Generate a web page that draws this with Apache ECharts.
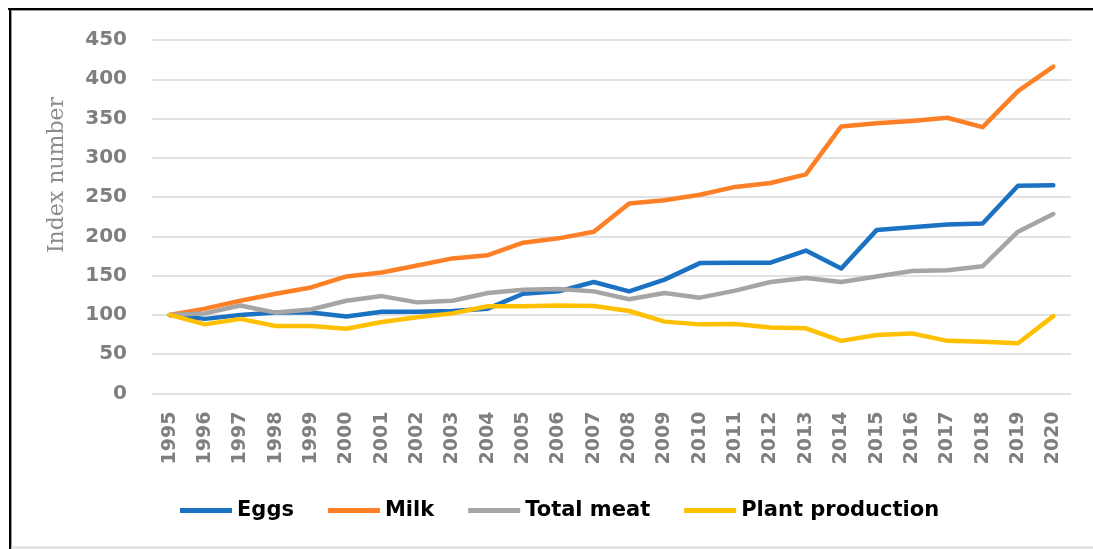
<!DOCTYPE html>
<html>
<head>
<meta charset="utf-8">
<script src="https://cdn.jsdelivr.net/npm/echarts@6/dist/echarts.min.js"></script>
<style>
html,body{margin:0;padding:0;background:#fff;}
#chart{width:1093px;height:549px;}
</style>
</head>
<body>
<div id="chart"></div>
<script>
var years = ['1995','1996','1997','1998','1999','2000','2001','2002','2003','2004','2005','2006','2007','2008','2009','2010','2011','2012','2013','2014','2015','2016','2017','2018','2019','2020'];
var eggs = [100,95,100,103,103,98,104,104,105,108,127,130,142,130,145,166,166.5,166.5,182,159,208,211.5,215,216.5,264.5,265];
var milk = [100,108,118,127,135,149,154,163,172,176,192,197.5,206,242,246,253,263,268,279,340,344,347,351,339,385,416];
var meat = [100,102,112,103,107,118,124,116,118,128,132,133,130,120,128,122,131,142,147,142,149,156,157,162,206,228.5];
var plant = [100,88,95,86,86,82.5,91,97,102,111,111,112,111.5,105,91.5,88,88.5,84,83,67,74.5,76.5,67,66,64,98.5];
var seriesNames = ['Eggs','Milk','Total meat','Plant production'];
var seriesColors = ['#1b72c2','#fd7f26','#a5a5a5','#ffc000'];
var yTicks = {min:0, max:450, interval:50};
var yAxisTitle = 'Index number';

var chart = echarts.init(document.getElementById('chart'));
var dataSets = [eggs, milk, meat, plant];
var series = dataSets.map(function(d, i){
  return {
    name: seriesNames[i],
    type: 'line',
    data: d,
    showSymbol: false,
    symbol: 'none',
    lineStyle: {width: 4.5, color: seriesColors[i], join: 'round', cap: 'round'},
    itemStyle: {color: seriesColors[i]}
  };
});
chart.setOption({
  animation: false,
  backgroundColor: '#ffffff',
  graphic: [
    {type:'line', shape:{x1:8,y1:9,x2:1093,y2:9}, style:{stroke:'#000000', lineWidth:2}, silent:true},
    {type:'line', shape:{x1:11,y1:10.5,x2:1093,y2:10.5}, style:{stroke:'#9a9a9a', lineWidth:1}, silent:true},
    {type:'line', shape:{x1:10,y1:8,x2:10,y2:549}, style:{stroke:'#000000', lineWidth:2}, silent:true},
    {type:'line', shape:{x1:11.5,y1:11,x2:11.5,y2:549}, style:{stroke:'#9a9a9a', lineWidth:1}, silent:true},
    {type:'line', shape:{x1:11,y1:547.5,x2:1093,y2:547.5}, style:{stroke:'#d9d9d9', lineWidth:2}, silent:true},
    {type:'text', x:57, y:175, rotation:Math.PI/2, silent:true,
     style:{text:yAxisTitle, fontFamily:'DejaVu Serif', fontSize:22, fill:'#8c8c8c', align:'center', verticalAlign:'middle'}}
  ],
  grid: {left:152, right:22, top:40, bottom:155.5, containLabel:false, outerBoundsMode:'none'},
  legend: {
    data: seriesNames,
    left: 175,
    top: 495,
    itemWidth: 52,
    itemHeight: 5,
    itemGap: 34,
    icon: 'path://M0,0 L52,0 L52,5 L0,5 Z',
    textStyle: {fontFamily:'DejaVu Sans', fontWeight:'bold', fontSize:21, color:'#000000'}
  },
  xAxis: {
    type: 'category',
    data: years,
    boundaryGap: true,
    axisLine: {show:false},
    axisTick: {show:false},
    axisLabel: {rotate:90, margin:18, color:'#7f7f7f', fontFamily:'DejaVu Sans', fontWeight:'bold', fontSize:19, interval:0}
  },
  yAxis: {
    type: 'value',
    min: yTicks.min, max: yTicks.max, interval: yTicks.interval,
    axisLine: {show:false},
    axisTick: {show:false},
    axisLabel: {margin:25, color:'#7f7f7f', fontFamily:'DejaVu Sans', fontWeight:'bold', fontSize:20},
    splitLine: {show:true, lineStyle:{color:'#d9d9d9', width:1.5}}
  },
  series: series
});
</script>
</body>
</html>
